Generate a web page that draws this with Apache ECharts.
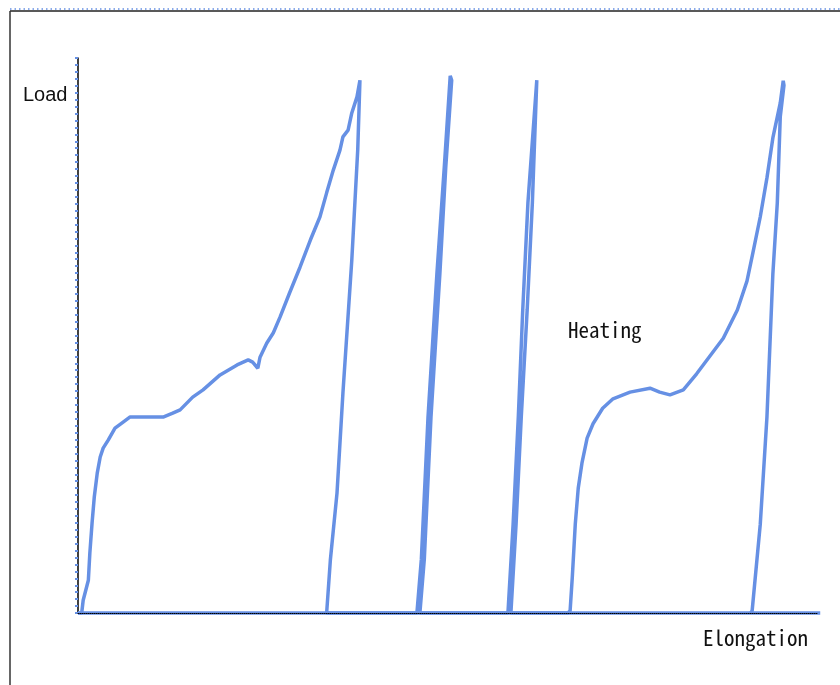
<!DOCTYPE html>
<html>
<head>
<meta charset="utf-8">
<script src="https://cdn.jsdelivr.net/npm/echarts@6/dist/echarts.min.js"></script>
<style>
  html, body { margin: 0; padding: 0; background: #fff; }
  #chart { width: 840px; height: 685px; }
</style>
</head>
<body>
<div id="chart"></div>
<script>
// Elongation / Load readings, arbitrary units (0-100 on both axes)
var cycle1 = [
  [0, 0], [0.5, 0], [0.7, 2.3], [1.4, 5.9], [1.6, 10.8], [1.9, 16.2], [2.2, 20.9],
  [2.6, 25.2], [3.0, 28.1], [3.4, 29.7], [4.1, 31.2], [5.0, 33.3], [6.1, 34.4],
  [7.0, 35.3], [8.8, 35.3], [11.5, 35.3], [12.8, 36.0], [13.8, 36.6], [15.5, 38.9],
  [16.9, 40.2], [19.2, 42.9], [21.5, 44.7], [23.0, 45.6], [23.6, 45.2], [24.3, 44.1],
  [24.6, 46.1], [25.5, 48.6], [26.4, 50.5], [27.3, 53.3], [28.6, 57.7], [30.0, 62.3],
  [31.4, 67.2], [32.7, 71.4], [33.6, 75.7], [34.5, 79.8], [35.4, 83.4], [35.8, 85.8],
  [36.5, 87.0], [37.0, 90.1], [37.7, 93.0], [38.1, 96.0],
  // unloading
  [37.8, 83.4], [37.0, 63.6], [35.8, 39.6], [35.0, 21.6], [34.1, 9.5], [33.6, 0]
]
var cycle2 = [
  [45.8, 0], [46.4, 9.7], [47.3, 35.3], [48.5, 61.1], [49.5, 80.4], [50.3, 96.8],
  [50.5, 96.0], [49.7, 80.4], [48.9, 61.1], [47.7, 35.3], [46.8, 9.7], [46.2, 0]
]
var cycle3 = [
  [58.1, 0], [58.8, 16.0], [59.5, 35.3], [60.1, 54.6], [60.8, 73.9], [62.0, 96.0],
  [62.2, 95.7], [61.4, 73.9], [60.7, 54.6], [59.9, 35.3], [59.2, 16.0], [58.5, 0]
]
var heatingCycle = [
  [66.2, 0], [66.5, 0.4], [66.8, 6.5], [67.2, 16.0], [67.6, 22.5], [68.1, 27.0],
  [68.8, 31.5], [69.6, 34.1], [70.9, 36.9], [72.3, 38.6], [74.6, 39.8], [77.3, 40.5],
  [78.6, 39.8], [80.0, 39.3], [81.8, 40.2], [83.6, 43.1], [85.4, 46.3], [87.2, 49.5],
  [89.1, 54.6], [90.4, 59.8], [91.2, 64.9], [92.2, 71.4], [93.1, 78.4], [93.9, 85.6],
  [94.9, 91.9], [95.3, 95.9],
  // unloading
  [95.4, 95.1], [94.9, 89.4], [94.5, 73.9], [93.9, 61.1], [93.1, 35.3], [92.2, 16.0],
  [91.1, 0.4], [90.9, 0]
]
// zero-load trace running along the whole x axis
var baseline = [[0, 0], [100.3, 0]]

var xName = 'Elongation'
var yName = 'Load'
var note = 'Heating'

var blue = '#6690e4'
var monoFont = "'Noto Sans Mono CJK JP', 'DejaVu Sans Mono', monospace"

var chart = echarts.init(document.getElementById('chart'), null, {renderer: 'canvas'})

var option = {
  backgroundColor: '#fff',
  animation: false,
  grid: {left: 78, top: 58, width: 740, height: 555},
  xAxis: {
    type: 'value',
    min: 0,
    max: 100,
    z: 5,
    axisLine: {lineStyle: {color: '#000', type: 'dotted', width: 1}},
    axisTick: {show: false},
    axisLabel: {show: false},
    splitLine: {show: false}
  },
  yAxis: {
    type: 'value',
    min: 0,
    max: 100,
    interval: 10,
    axisLine: {lineStyle: {color: '#000', width: 1.5}},
    axisTick: {show: true, length: 3, lineStyle: {color: blue, width: 2}},
    minorTick: {show: true, splitNumber: 8, length: 3, lineStyle: {color: blue, width: 2}},
    axisLabel: {show: false},
    splitLine: {show: false}
  },
  series: [{
    type: 'line',
    data: baseline,
    showSymbol: false,
    clip: false,
    lineStyle: {color: blue, width: 3.5},
    z: 2
  }, {
    type: 'line',
    data: cycle1.concat(cycle2, cycle3, heatingCycle),
    showSymbol: false,
    lineStyle: {color: blue, width: 3.5},
    z: 2
  }],
  graphic: [
    // frame
    {type: 'line', shape: {x1: 10, y1: 9, x2: 840, y2: 9}, style: {stroke: blue, lineWidth: 1.5, lineDash: [1.5, 3]}},
    {type: 'line', shape: {x1: 10, y1: 11, x2: 840, y2: 11}, style: {stroke: '#222', lineWidth: 1.5}},
    {type: 'line', shape: {x1: 10, y1: 11, x2: 10, y2: 685}, style: {stroke: '#333', lineWidth: 1.5}},
    // texts
    {type: 'text', x: 23, y: 95, style: {text: yName, fill: '#111', font: "20px 'Liberation Sans', Arial, sans-serif", align: 'left', verticalAlign: 'middle'}},
    {type: 'text', x: 703, y: 638, style: {text: xName, fill: '#111', font: '21px ' + monoFont, align: 'left', verticalAlign: 'middle'}},
    {type: 'text', x: 568, y: 330, style: {text: note, fill: '#111', font: '21px ' + monoFont, align: 'left', verticalAlign: 'middle'}}
  ]
}

chart.setOption(option)
</script>
</body>
</html>
